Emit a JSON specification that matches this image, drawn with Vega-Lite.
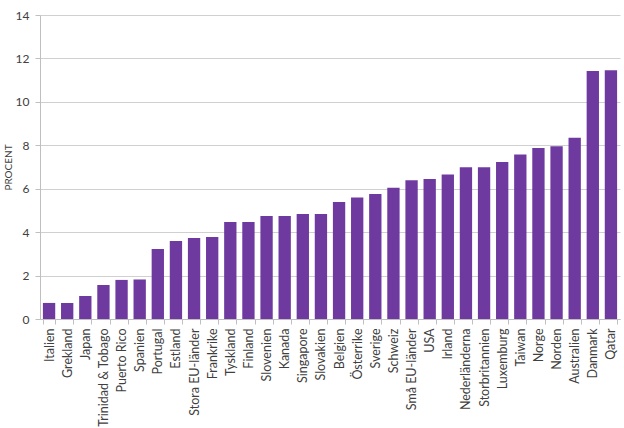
{
  "$schema": "https://vega.github.io/schema/vega-lite/v6.json",
  "width": 580,
  "height": 304,
  "autosize": {"type": "none"},
  "padding": {"left": 40, "top": 15, "right": 4, "bottom": 109},
  "background": "white",
  "config": {
    "view": {"stroke": null},
    "font": "Lato",
    "axis": {"labelFont": "Lato", "titleFont": "Lato", "labelColor": "#404040", "titleColor": "#404040"}
  },
  "data": {
    "values": [
      {"land": "Italien", "v": 0.74},
      {"land": "Grekland", "v": 0.74},
      {"land": "Japan", "v": 1.06},
      {"land": "Trinidad & Tobago", "v": 1.57},
      {"land": "Puerto Rico", "v": 1.8},
      {"land": "Spanien", "v": 1.82},
      {"land": "Portugal", "v": 3.22},
      {"land": "Estland", "v": 3.59},
      {"land": "Stora EU-länder", "v": 3.73},
      {"land": "Frankrike", "v": 3.78},
      {"land": "Tyskland", "v": 4.47},
      {"land": "Finland", "v": 4.47},
      {"land": "Slovenien", "v": 4.74},
      {"land": "Kanada", "v": 4.74},
      {"land": "Singapore", "v": 4.83},
      {"land": "Slovakien", "v": 4.84},
      {"land": "Belgien", "v": 5.39},
      {"land": "Österrike", "v": 5.6},
      {"land": "Sverige", "v": 5.76},
      {"land": "Schweiz", "v": 6.05},
      {"land": "Små EU-länder", "v": 6.39},
      {"land": "USA", "v": 6.45},
      {"land": "Irland", "v": 6.65},
      {"land": "Nederländerna", "v": 6.99},
      {"land": "Storbritannien", "v": 6.99},
      {"land": "Luxemburg", "v": 7.23},
      {"land": "Taiwan", "v": 7.58},
      {"land": "Norge", "v": 7.88},
      {"land": "Norden", "v": 7.95},
      {"land": "Australien", "v": 8.35},
      {"land": "Danmark", "v": 11.42},
      {"land": "Qatar", "v": 11.45}
    ]
  },
  "mark": {"type": "bar", "color": "#6F3AA0"},
  "encoding": {
    "x": {
      "field": "land",
      "type": "nominal",
      "sort": null,
      "scale": {"paddingInner": 0.32, "paddingOuter": 0.16},
      "axis": {
        "title": null,
        "labelAngle": -90,
        "labelFontSize": 12.5,
        "labelPadding": 4,
        "tickBand": "extent",
        "ticks": true,
        "tickSize": 5,
        "tickColor": "#bfbfbf",
        "domainColor": "#bfbfbf",
        "labelLimit": 200
      }
    },
    "y": {
      "field": "v",
      "type": "quantitative",
      "scale": {"domain": [0, 14]},
      "axis": {
        "title": "PROCENT",
        "titleFontSize": 10,
        "titleFontWeight": "normal",
        "titlePadding": 2,
        "values": [0, 2, 4, 6, 8, 10, 12, 14],
        "labelFontSize": 12,
        "labelPadding": 6,
        "tickSize": 5,
        "tickColor": "#bfbfbf",
        "domainColor": "#bfbfbf",
        "gridColor": "#d0d0d0",
        "grid": true
      }
    }
  }
}
